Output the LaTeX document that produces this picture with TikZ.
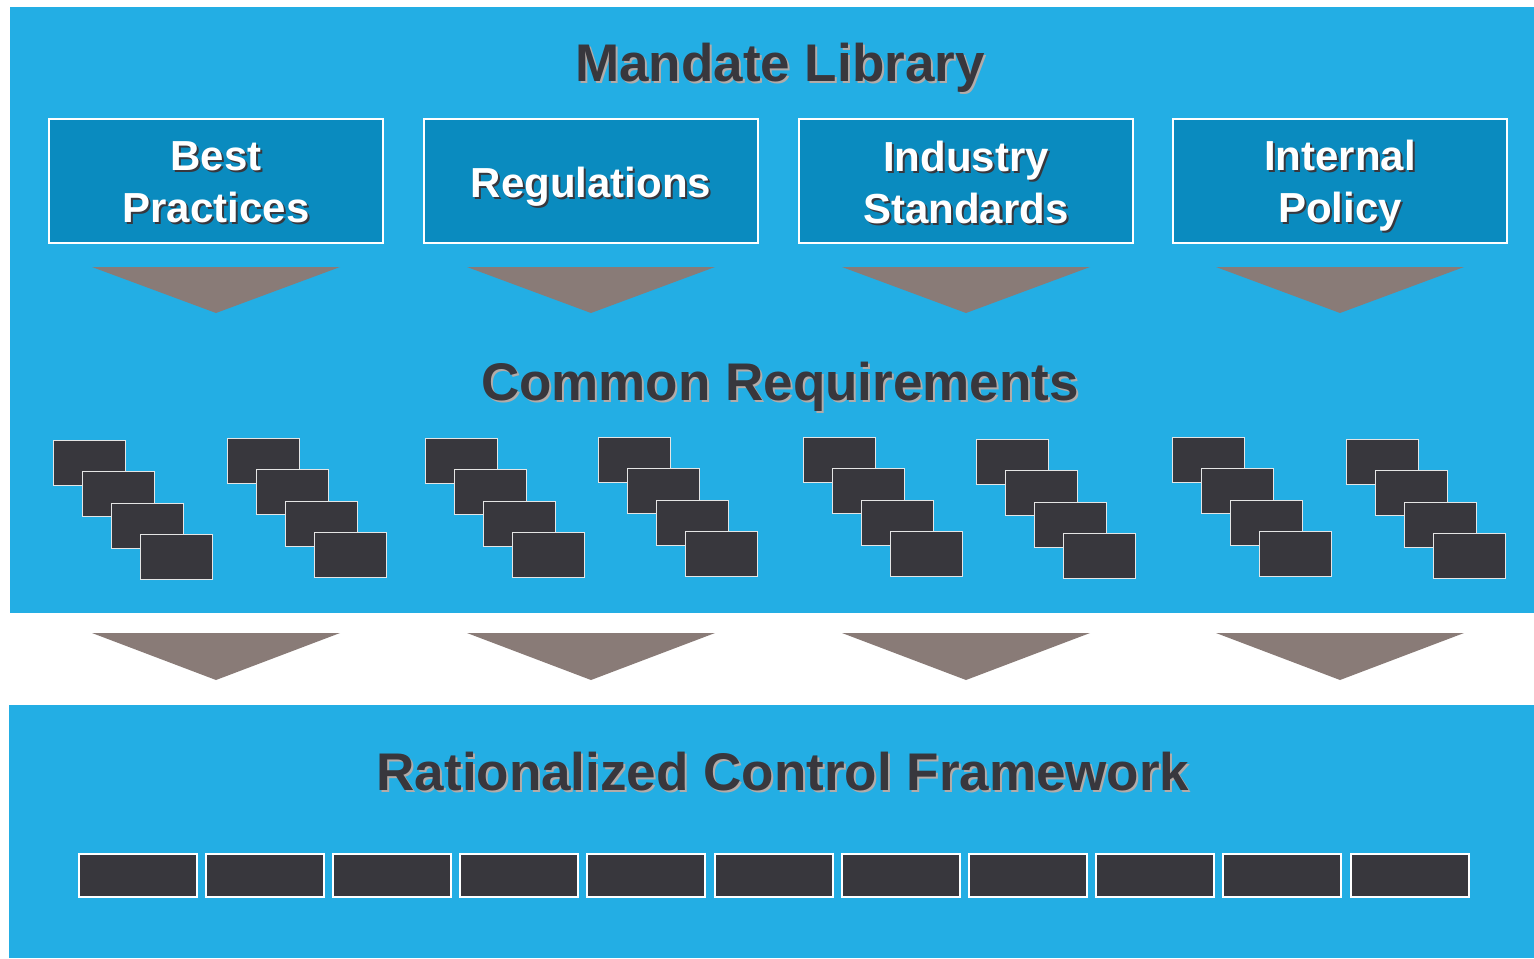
\documentclass[tikz,border=0pt]{standalone}
\usepackage{fontspec}
\setmainfont{Liberation Sans}
\usetikzlibrary{positioning}

\definecolor{panelBlue}{HTML}{23AEE4}
\definecolor{sourceBlue}{HTML}{0A8BBF}
\definecolor{arrowGray}{HTML}{897B77}
\definecolor{slate}{HTML}{38373D}
\definecolor{shadowGray}{HTML}{B3ABA8}

\tikzset{
  heading/.style={font=\fontsize{26.5}{30}\selectfont\bfseries, text=slate, anchor=base, inner sep=0pt},
  headingShadow/.style={heading, text=shadowGray},
  source/.style={draw=white, line width=1pt, fill=sourceBlue, minimum width=167pt, minimum height=62pt, inner sep=0pt},
  sourceText/.style={font=\fontsize{21}{26}\selectfont\bfseries, text=white, align=center, inner sep=0pt},
  sourceShadow/.style={sourceText, text=slate},
  requirement/.style={draw=white!80!gray, line width=0.5pt, fill=slate, minimum width=36pt, minimum height=22.5pt, inner sep=0pt},
  control/.style={draw=white, line width=1pt, fill=slate, minimum width=59pt, minimum height=21.5pt, inner sep=0pt}
}

\begin{document}
\begin{tikzpicture}[x=0.5pt, y=-0.5pt]
    \useasboundingbox (0,0) rectangle (1534,958);

    \fill[panelBlue] (10,7) rectangle (1534,613);
    \fill[panelBlue] (9,705) rectangle (1534,958);

    \node[headingShadow] (mandateShadow) at (782,83) {Mandate Library};
    \node[heading] (mandate) at (780,81) {Mandate Library};

    \foreach \x/\ty/\name/\txt in {216/182/best/{Best\\Practices}, 591/187/regs/{Regulations}, 966/182/industry/{Industry\\Standards}, 1340/186/policy/{Internal\\Policy}} {
      \node[source] (\name) at (\x,181) {};
      \node[sourceShadow, xshift=1pt, yshift=-1pt] (\name Shadow) at (\x,\ty) {\txt};
      \node[sourceText] (\name Text) at (\x,\ty) {\txt};
      \fill[arrowGray] (\x-124,267) -- (\x+124,267) -- (\x,313) -- cycle;
      \fill[arrowGray] (\x-124,633) -- (\x+124,633) -- (\x,680) -- cycle;
    }

    \node[headingShadow] (commonShadow) at (782,402) {Common Requirements};
    \node[heading] (common) at (780,400) {Common Requirements};

    \foreach \gx/\gy in {53/440, 227/438, 425/438, 598/437, 803/437, 976/439, 1172/437, 1346/439} {
      \foreach \k in {0,...,3} {
        \node[requirement] (req\gx-\k) at ({\gx+29*\k+36},{\gy+31.5*\k+22.5}) {};
      }
    }

    \node[headingShadow] (frameworkShadow) at (785,792) {Rationalized Control Framework};
    \node[heading] (framework) at (783,790) {Rationalized Control Framework};

    \foreach \i in {0,...,10} {
      \node[control] (control\i) at ({137.5+127.2*\i},875) {};
    }
  \end{tikzpicture}
\end{document}
